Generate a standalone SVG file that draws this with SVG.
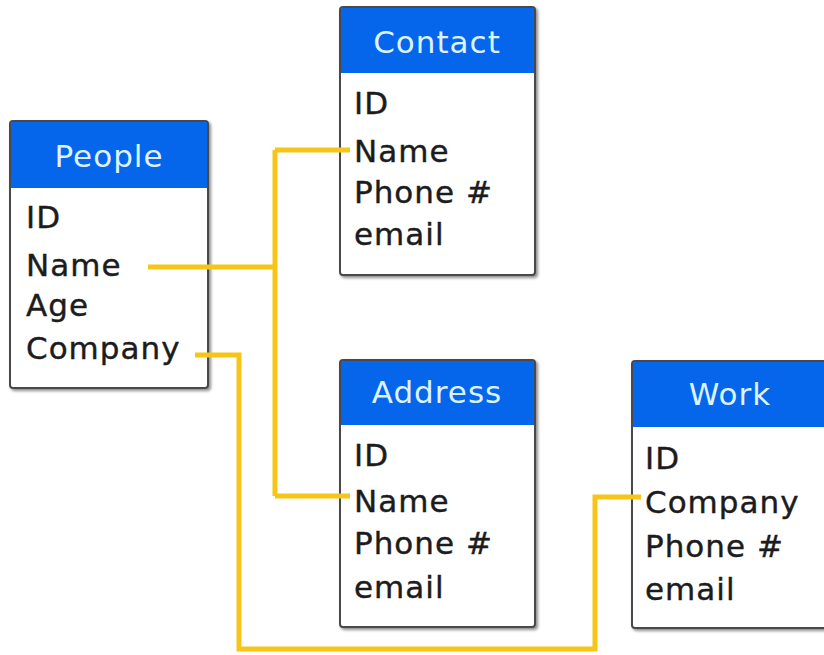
<svg xmlns="http://www.w3.org/2000/svg" width="824" height="655" viewBox="0 0 824 655">
  <defs>
    <filter id="shadow" x="-10%" y="-10%" width="130%" height="130%">
      <feGaussianBlur in="SourceAlpha" stdDeviation="1.5"/>
      <feOffset dx="1.5" dy="2" result="b"/>
      <feComponentTransfer><feFuncA type="linear" slope="0.45"/></feComponentTransfer>
      <feMerge><feMergeNode/><feMergeNode in="SourceGraphic"/></feMerge>
    </filter>
  </defs>
  <style>
    .box { fill: #ffffff; stroke: #4a4a4a; stroke-width: 2; filter: url(#shadow); }
    .head { fill: #0566EC; }
    .title { font-family: "DejaVu Sans", "Liberation Sans", sans-serif; font-size: 31px; fill: #DDF2FF; text-anchor: middle; letter-spacing: 1px; }
    .field { font-family: "DejaVu Sans", "Liberation Sans", sans-serif; font-size: 31px; fill: #1c1c1c; letter-spacing: 1px; stroke: #1c1c1c; stroke-width: 0.4; }
    .link { fill: none; stroke: #F5C518; stroke-width: 5; stroke-linejoin: miter; }
  </style>
  <rect width="824" height="655" fill="#ffffff"/>

  <g id="people">
    <rect class="box" x="10" y="121" width="198" height="267" rx="3"/>
    <rect class="head" x="11" y="122" width="196" height="66"/>
    <text class="title" x="109" y="167">People</text>
    <text class="field" x="26" y="228">ID</text>
    <text class="field" x="26" y="276">Name</text>
    <text class="field" x="26" y="316">Age</text>
    <text class="field" x="26" y="359">Company</text>
  </g>

  <g id="contact">
    <rect class="box" x="340" y="7" width="195" height="268" rx="3"/>
    <rect class="head" x="341" y="8" width="193" height="65"/>
    <text class="title" x="437" y="53">Contact</text>
    <text class="field" x="354" y="114">ID</text>
    <text class="field" x="354" y="162">Name</text>
    <text class="field" x="354" y="203">Phone #</text>
    <text class="field" x="354" y="245">email</text>
  </g>

  <g id="address">
    <rect class="box" x="340" y="360" width="195" height="267" rx="3"/>
    <rect class="head" x="341" y="361" width="193" height="64"/>
    <text class="title" x="437" y="403">Address</text>
    <text class="field" x="354" y="466">ID</text>
    <text class="field" x="354" y="512">Name</text>
    <text class="field" x="354" y="554">Phone #</text>
    <text class="field" x="354" y="598">email</text>
  </g>

  <g id="work">
    <rect class="box" x="632" y="361" width="210" height="267" rx="3"/>
    <rect class="head" x="633" y="362" width="208" height="65"/>
    <text class="title" x="730" y="405">Work</text>
    <text class="field" x="645" y="469">ID</text>
    <text class="field" x="645" y="513">Company</text>
    <text class="field" x="645" y="557">Phone #</text>
    <text class="field" x="645" y="600">email</text>
  </g>

  <!-- relationships, drawn over the tables so the ends reach the field names -->
  <g id="connectors">
    <path class="link" d="M148,267 H275 M275,150 V496 M275,150 H350 M275,496 H350"/>
    <path class="link" d="M195,355 H239 V649 H595 V497 H641"/>
  </g>
</svg>
